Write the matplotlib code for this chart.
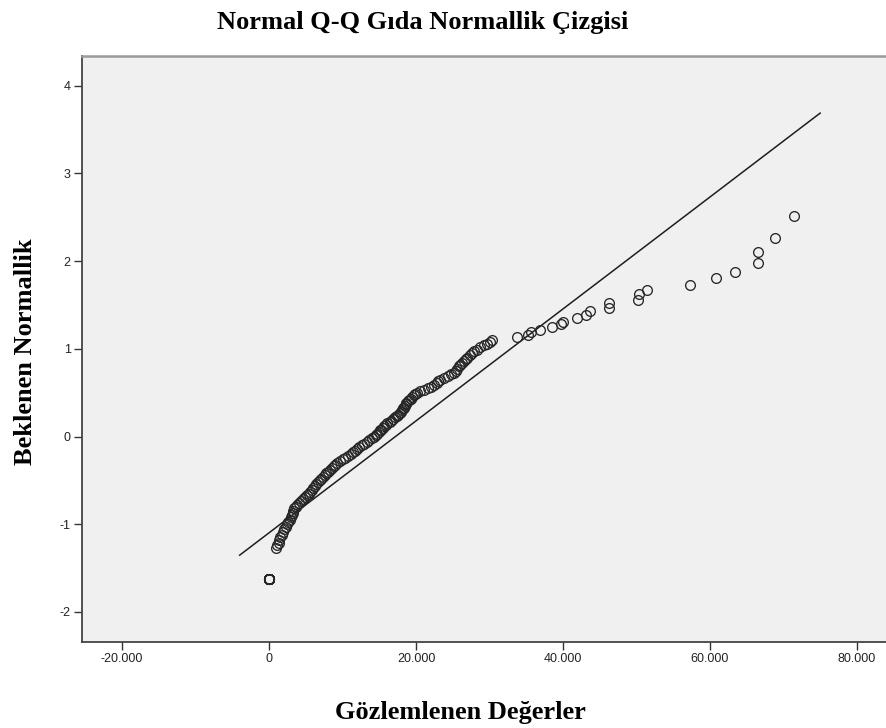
import matplotlib
matplotlib.use("Agg")
import matplotlib.pyplot as plt

plt.rcParams['axes.unicode_minus'] = False

# observed values (x) and expected normal values (y)
zero_obs = [0.0] * 16
zero_exp = [-1.62] * 16

chain_obs = [
    1.0, 1.1, 1.3, 1.4, 1.5, 1.7, 1.9, 2.1, 2.3, 2.5, 2.6, 2.8, 3.0, 3.1, 3.2, 3.3, 3.4, 3.6,
    3.8, 4.1, 4.4, 4.6, 4.9, 5.2, 5.4, 5.6, 5.8, 6.0, 6.2, 6.4, 6.6, 6.9, 7.1, 7.3, 7.6, 7.8,
    8.0, 8.3, 8.5, 8.8, 9.0, 9.2, 9.6, 10.0, 10.4, 10.8, 11.1, 11.4, 11.7, 12.0, 12.3, 12.6,
    12.9, 13.3, 13.6, 14.0,
    14.3, 14.5, 14.7, 14.9, 15.1, 15.3, 15.5, 15.7, 15.9, 16.1, 16.4, 16.6, 16.9, 17.1, 17.4,
    17.6, 17.8, 17.95, 18.1, 18.2, 18.35, 18.5, 18.6, 18.7, 18.9, 19.1, 19.3, 19.5, 19.7,
    19.9, 20.1,
    20.6, 21.1, 21.6, 22.1, 22.5, 22.8, 23.0, 23.3, 23.8, 24.3, 24.8, 25.2, 25.4, 25.6, 25.8,
    26.0, 26.2, 26.5, 26.8, 27.0, 27.3, 27.6, 27.9, 28.3, 28.7, 29.2, 29.7, 30.1, 30.3,
]
chain_exp = [
    -1.27, -1.24, -1.21, -1.18, -1.15, -1.12, -1.09, -1.06, -1.03, -1.00, -0.98, -0.95, -0.92,
    -0.90, -0.87, -0.85, -0.82, -0.80,
    -0.78, -0.76, -0.74, -0.71, -0.69, -0.67, -0.65, -0.63, -0.61, -0.59, -0.56, -0.54, -0.52,
    -0.50, -0.48, -0.46, -0.44, -0.42, -0.40, -0.38, -0.36, -0.34, -0.32, -0.30, -0.28, -0.26,
    -0.24, -0.22, -0.20, -0.18, -0.16, -0.14, -0.12, -0.10, -0.08, -0.06, -0.04, -0.02,
    0.00, 0.02, 0.03, 0.05, 0.07, 0.08, 0.10, 0.12, 0.13, 0.15, 0.17, 0.18, 0.20, 0.22, 0.23,
    0.25, 0.27, 0.28, 0.30, 0.32, 0.33, 0.35, 0.37, 0.38, 0.40, 0.42, 0.43, 0.45, 0.47, 0.48,
    0.50,
    0.52, 0.53, 0.55, 0.57, 0.59, 0.61, 0.63, 0.65, 0.67, 0.69, 0.71, 0.73, 0.75, 0.77, 0.80,
    0.82, 0.84, 0.86, 0.88, 0.90, 0.93, 0.95, 0.97, 0.99, 1.02, 1.04, 1.06, 1.08, 1.10,
]

tail_obs = [33.7, 35.3, 35.6, 36.9, 38.5, 39.8, 40.0, 41.9, 43.2, 43.7, 46.2, 46.3, 50.2,
            50.3, 51.5, 57.3, 60.8, 63.4, 66.5, 66.5, 68.9, 71.4]
tail_exp = [1.14, 1.16, 1.19, 1.22, 1.25, 1.28, 1.31, 1.35, 1.39, 1.43, 1.47, 1.52, 1.56,
            1.62, 1.67, 1.73, 1.81, 1.88, 1.98, 2.10, 2.26, 2.51]

# reference normal line: mean and standard deviation of the sample
mean_obs = 17.2
sd_obs = 15.67
line_x = [-4.0, 75.0]

x_ticks = [-20, 0, 20, 40, 60, 80]
x_ticklabels = ['-20.000', '0', '20.000', '40.000', '60.000', '80.000']
y_ticks = [-2, -1, 0, 1, 2, 3, 4]

fig = plt.figure(figsize=(8.87, 7.28), dpi=100)
ax = fig.add_axes([0.0921, 0.1185, 0.9079, 0.8046])
ax.set_facecolor('#f0f0f0')

line_y = [(v - mean_obs) / sd_obs for v in line_x]
ax.plot(line_x, line_y, color='#1e1e1e', linewidth=1.1, zorder=2)

obs = zero_obs + chain_obs + tail_obs
exp = zero_exp + chain_exp + tail_exp
ax.plot(obs, exp, linestyle='none', marker='o', markersize=7.0,
        markerfacecolor='none', markeredgecolor='#262626', markeredgewidth=0.95, zorder=3)

ax.set_xlim(-25.5, 84.1)
ax.set_ylim(-2.34, 4.34)
ax.set_xticks(x_ticks)
ax.set_xticklabels(x_ticklabels)
ax.set_yticks(y_ticks)

ax.tick_params(direction='out', length=6, width=1.0, color='#333333',
               labelsize=9, labelcolor='#222222', pad=2)
for lab in ax.get_xticklabels() + ax.get_yticklabels():
    lab.set_family('Liberation Sans')

ax.spines['right'].set_visible(False)
ax.spines['left'].set_color('#444444')
ax.spines['bottom'].set_color('#444444')
ax.spines['left'].set_linewidth(1.3)
ax.spines['bottom'].set_linewidth(1.3)
ax.spines['top'].set_color('#9a9a9a')
ax.spines['top'].set_linewidth(1.8)

serif = dict(family='Liberation Serif', fontweight='bold', fontsize=19, color='black')
fig.text(423 / 887, 1 - 22 / 728, 'Normal Q-Q Gıda Normallik Çizgisi',
         ha='center', va='center', **serif)
fig.text(460 / 887, 1 - 712 / 728, 'Gözlemlenen Değerler',
         ha='center', va='center', **serif)
fig.text(26 / 887, 1 - 352 / 728, 'Beklenen Normallik',
         ha='center', va='center', rotation=90, **serif)

fig.savefig('out.png', dpi=100)
